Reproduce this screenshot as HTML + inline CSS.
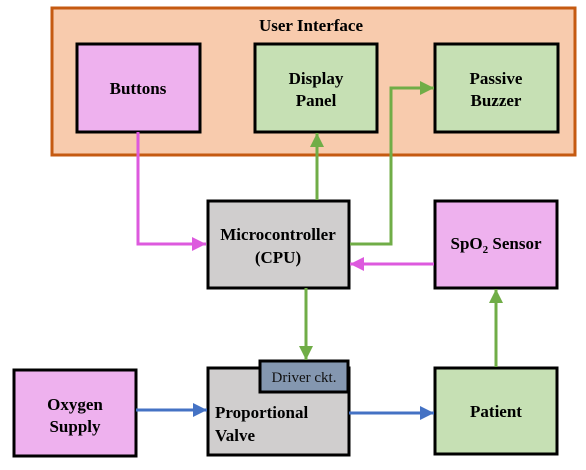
<!DOCTYPE html>
<html><head><style>
body{margin:0;background:#fff;}
svg{display:block;}
text{font-family:"Liberation Serif","Times New Roman",Times,"DejaVu Serif",serif;}
.b{font-weight:bold;font-size:17px;fill:#000;}
</style></head><body>
<svg width="586" height="470" viewBox="0 0 586 470" style="font-family:'Liberation Serif','Times New Roman',serif">
<defs>
<marker id="g" markerWidth="16" markerHeight="16" refX="14" refY="7" orient="auto" markerUnits="userSpaceOnUse"><path d="M0,0 L14,7 L0,14 z" fill="#70ad47"/></marker>
<marker id="m" markerWidth="16" markerHeight="16" refX="14" refY="7" orient="auto" markerUnits="userSpaceOnUse"><path d="M0,0 L14,7 L0,14 z" fill="#dd5ade"/></marker>
<marker id="bl" markerWidth="16" markerHeight="16" refX="14" refY="7" orient="auto" markerUnits="userSpaceOnUse"><path d="M0,0 L14,7 L0,14 z" fill="#4472c4"/></marker>
</defs>
<rect x="52" y="8" width="523" height="147" fill="#f8cbad" stroke="#c55a11" stroke-width="3"/>
<text x="311" y="31" text-anchor="middle" class="b">User Interface</text>
<rect x="77" y="44" width="123" height="88" fill="#eeb1ee" stroke="#000" stroke-width="3"/>
<text x="138" y="94" text-anchor="middle" class="b">Buttons</text>
<rect x="255" y="44" width="122" height="88" fill="#c6e0b4" stroke="#000" stroke-width="3"/>
<text x="316" y="84" text-anchor="middle" class="b">Display</text>
<text x="316" y="106" text-anchor="middle" class="b">Panel</text>
<rect x="435" y="44" width="123" height="88" fill="#c6e0b4" stroke="#000" stroke-width="3"/>
<text x="496" y="84" text-anchor="middle" class="b">Passive</text>
<text x="496" y="106" text-anchor="middle" class="b">Buzzer</text>

<rect x="208" y="201" width="141" height="87" fill="#d0cece" stroke="#000" stroke-width="3"/>
<text x="278" y="240" text-anchor="middle" class="b">Microcontroller</text>
<text x="278" y="263" text-anchor="middle" class="b">(CPU)</text>
<rect x="435" y="201" width="122" height="87" fill="#eeb1ee" stroke="#000" stroke-width="3"/>
<text x="496" y="249" text-anchor="middle" class="b">SpO<tspan font-size="11" dy="4">2</tspan><tspan dy="-4"> Sensor</tspan></text>

<rect x="14" y="370" width="122" height="86" fill="#eeb1ee" stroke="#000" stroke-width="3"/>
<text x="75" y="410" text-anchor="middle" class="b">Oxygen</text>
<text x="75" y="432" text-anchor="middle" class="b">Supply</text>
<rect x="208" y="368" width="141" height="87" fill="#d0cece" stroke="#000" stroke-width="3"/>
<rect x="260" y="361" width="88" height="31" fill="#8497b0" stroke="#000" stroke-width="3"/>
<text x="304" y="382" text-anchor="middle" font-size="15" fill="#111">Driver ckt.</text>
<text x="215" y="418" class="b">Proportional</text>
<text x="215" y="441" class="b">Valve</text>
<rect x="435" y="368" width="122" height="86" fill="#c6e0b4" stroke="#000" stroke-width="3"/>
<text x="496" y="417" text-anchor="middle" class="b">Patient</text>

<polyline points="138,132 138,244 206,244" fill="none" stroke="#dd5ade" stroke-width="3" marker-end="url(#m)"/>
<line x1="434" y1="264" x2="350" y2="264" stroke="#dd5ade" stroke-width="3" marker-end="url(#m)"/>
<line x1="317" y1="200" x2="317" y2="133" stroke="#70ad47" stroke-width="3" marker-end="url(#g)"/>
<polyline points="350,244 391,244 391,88 434,88" fill="none" stroke="#70ad47" stroke-width="3" marker-end="url(#g)"/>
<line x1="306" y1="288" x2="306" y2="360" stroke="#70ad47" stroke-width="3" marker-end="url(#g)"/>
<line x1="496" y1="367" x2="496" y2="289" stroke="#70ad47" stroke-width="3" marker-end="url(#g)"/>
<line x1="136" y1="410" x2="207" y2="410" stroke="#4472c4" stroke-width="3" marker-end="url(#bl)"/>
<line x1="349" y1="413" x2="434" y2="413" stroke="#4472c4" stroke-width="3" marker-end="url(#bl)"/>
</svg>
</body></html>
